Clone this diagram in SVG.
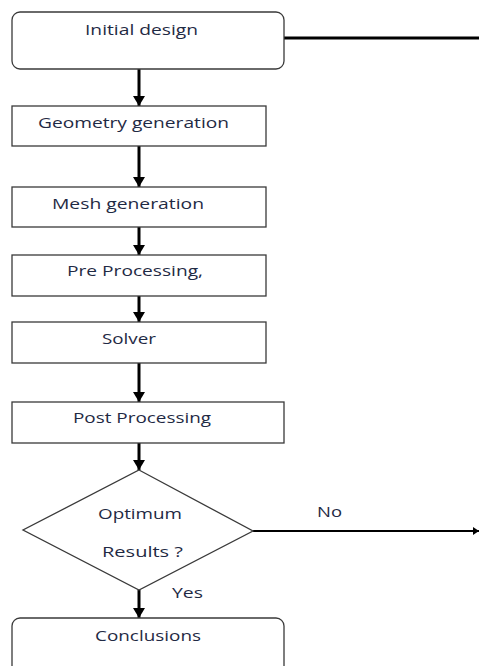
<svg xmlns="http://www.w3.org/2000/svg" width="479" height="666" viewBox="0 0 479 666">
<style>
.box{fill:#fff;stroke:#3a3a3a;stroke-width:1.3}
.t{font-family:"Open Sans","Liberation Sans",sans-serif;font-size:15px;fill:#1f2a44}
.c{stroke:#000;stroke-width:3;fill:none}
.c2{stroke:#000;stroke-width:2;fill:none}
</style>
<defs>
<marker id="ah" markerUnits="userSpaceOnUse" markerWidth="14" markerHeight="12" refX="10" refY="6" orient="auto">
<path d="M0,0 L10,6 L0,12 Z" fill="#000"/>
</marker>
<marker id="ah2" markerUnits="userSpaceOnUse" markerWidth="8" markerHeight="8" refX="6" refY="4" orient="auto">
<path d="M0,0 L6,4 L0,8 Z" fill="#000"/>
</marker>
</defs>
<rect width="479" height="666" fill="#fff"/>
<g id="connectors">
<line class="c" x1="284" y1="38" x2="479" y2="38"/>
<line class="c" x1="139" y1="69" x2="139" y2="106" marker-end="url(#ah)"/>
<line class="c" x1="139" y1="146" x2="139" y2="187" marker-end="url(#ah)"/>
<line class="c" x1="139" y1="227" x2="139" y2="255" marker-end="url(#ah)"/>
<line class="c" x1="139" y1="296" x2="139" y2="322" marker-end="url(#ah)"/>
<line class="c" x1="139" y1="363" x2="139" y2="402" marker-end="url(#ah)"/>
<line class="c" x1="139" y1="443" x2="139" y2="470" marker-end="url(#ah)"/>
<line class="c2" x1="253" y1="531" x2="479" y2="531" marker-end="url(#ah2)"/>
<line class="c" x1="139" y1="590" x2="139" y2="618" marker-end="url(#ah)"/>
<text class="t" x="317" y="517" textLength="25" lengthAdjust="spacingAndGlyphs">No</text>
<text class="t" x="172" y="598" textLength="31" lengthAdjust="spacingAndGlyphs">Yes</text>
</g>
<g id="initial">
<rect class="box" x="12" y="12" width="272" height="57" rx="8"/>
<text class="t" x="85" y="35" textLength="113" lengthAdjust="spacingAndGlyphs">Initial design</text>
</g>
<g id="geometry">
<rect class="box" x="12" y="106" width="254" height="40"/>
<text class="t" x="38" y="128" textLength="191" lengthAdjust="spacingAndGlyphs">Geometry generation</text>
</g>
<g id="mesh">
<rect class="box" x="12" y="187" width="254" height="40"/>
<text class="t" x="52" y="209" textLength="152" lengthAdjust="spacingAndGlyphs">Mesh generation</text>
</g>
<g id="pre">
<rect class="box" x="12" y="255" width="254" height="41"/>
<text class="t" x="67" y="276" textLength="136" lengthAdjust="spacingAndGlyphs">Pre Processing,</text>
</g>
<g id="solver">
<rect class="box" x="12" y="322" width="254" height="41"/>
<text class="t" x="102" y="344" textLength="54" lengthAdjust="spacingAndGlyphs">Solver</text>
</g>
<g id="post">
<rect class="box" x="12" y="402" width="272" height="41"/>
<text class="t" x="73" y="423" textLength="138" lengthAdjust="spacingAndGlyphs">Post Processing</text>
</g>
<g id="decision">
<polygon class="box" points="139,470 253,531 139,590 23,530"/>
<text class="t" x="98" y="519" textLength="84" lengthAdjust="spacingAndGlyphs">Optimum</text>
<text class="t" x="102" y="557" textLength="81" lengthAdjust="spacingAndGlyphs">Results ?</text>
</g>
<g id="conclusions">
<rect class="box" x="12" y="618" width="272" height="70" rx="8"/>
<text class="t" x="95" y="641" textLength="106" lengthAdjust="spacingAndGlyphs">Conclusions</text>
</g>
</svg>
